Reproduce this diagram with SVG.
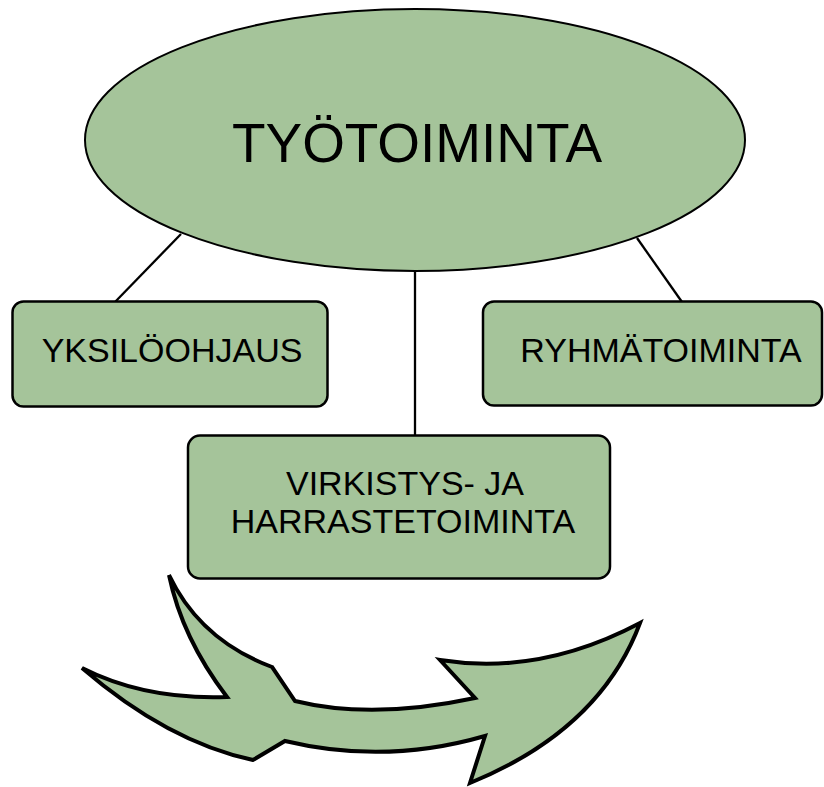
<svg xmlns="http://www.w3.org/2000/svg" width="824" height="787" viewBox="0 0 824 787">
<style>
.shape{fill:#a5c49a;stroke:#000;}
.box{stroke-width:2.5;}
.t{font-family:"Liberation Sans",Arial,sans-serif;fill:#000;text-anchor:middle;}
.conn line{stroke:#000;stroke-width:2.3;}
</style>
<rect width="824" height="787" fill="#fff"/>
<g id="connectors" class="conn">
<line x1="181" y1="234" x2="115" y2="302"/>
<line x1="637" y1="238" x2="682" y2="302"/>
<line x1="415" y1="270" x2="415" y2="436"/>
</g>
<g id="tyotoiminta">
<ellipse class="shape" cx="415" cy="140" rx="330" ry="131" stroke-width="2"/>
<text class="t" x="417" y="162" font-size="56" textLength="370" lengthAdjust="spacingAndGlyphs">TYÖTOIMINTA</text>
</g>
<g id="yksiloohjaus">
<rect class="shape box" x="12.5" y="301.5" width="315" height="105" rx="11"/>
<text class="t" x="172" y="362" font-size="34">YKSILÖOHJAUS</text>
</g>
<g id="ryhmatoiminta">
<rect class="shape box" x="483" y="301.5" width="339" height="104" rx="11"/>
<text class="t" x="661" y="362" font-size="34">RYHMÄTOIMINTA</text>
</g>
<g id="virkistys">
<rect class="shape box" x="188" y="435.5" width="422" height="143" rx="12"/>
<text class="t" x="405" y="495" font-size="34">VIRKISTYS- JA</text>
<text class="t" x="403" y="533" font-size="34">HARRASTETOIMINTA</text>
</g>
<g id="arrow">
<path class="shape" stroke-width="4" stroke-linejoin="miter" d="M169,575 Q200,640 272,667 L295,701 Q372,720 475,698 L440,660 Q540,676 640,623 Q600,730 470,783 L485,736 Q385,765 285,741 L253,760 Q168,742 82,668 Q145,700 227,697 Q182,638 169,575 Z"/>
</g>
</svg>
